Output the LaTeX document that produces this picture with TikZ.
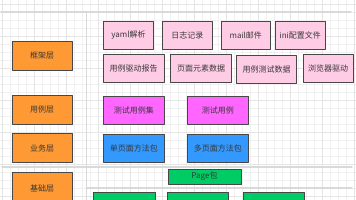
\documentclass[tikz,border=0pt]{standalone}
\usepackage{fontspec}
\setmainfont{Noto Sans CJK SC}
\definecolor{layerorange}{HTML}{FF9933}
\definecolor{toolpink}{HTML}{FFCCE6}
\definecolor{casemagenta}{HTML}{FF66FF}
\definecolor{bizblue}{HTML}{3399FF}
\definecolor{basegreen}{HTML}{00CC66}

\begin{document}
\begin{tikzpicture}[x=1pt,y=-1pt,line join=round,line cap=round,
  box/.style={draw=black!72,line width=0.8pt,inner sep=0pt,text=black!78,
    font=\fontsize{8}{9}\selectfont},
  layer/.style={box,fill=layerorange,minimum width=60pt,minimum height=29pt},
  tool/.style={box,fill=toolpink,minimum height=28pt},
  sepline/.style={black!15,line width=1.4pt}]
  \useasboundingbox (0,0) rectangle (356,200);
  \clip (0,0) rectangle (356,200);
  % grid
  \foreach \i in {0,...,44} \draw[black!6,line width=0.5pt] (2+8*\i,0)--(2+8*\i,200);
  \foreach \j in {0,...,25} \draw[black!6,line width=0.5pt] (0,4+8*\j)--(356,4+8*\j);
  \foreach \i in {0,...,11} \draw[black!10,line width=0.5pt] (2+32*\i,0)--(2+32*\i,200);
  \foreach \j in {0,...,6} \draw[black!10,line width=0.5pt] (0,4+32*\j)--(356,4+32*\j);
  % separators
  \draw[sepline] (1,12)--(351,12);
  \draw[sepline] (86.5,12)--(86.5,200);
  \draw[sepline] (2,167)--(352,167);
  \draw[sepline] (87,188)--(352,188);
  % layers
  \node[layer] (frame) at (42,55.5) {框架层};
  \node[layer] (cases) at (42,109.7) {用例层};
  \node[layer] (biz) at (42,148) {业务层};
  \node[layer,minimum height=31pt] (base) at (42,188) {基础层};
  % framework tools
  \node[tool,minimum width=50.4pt] (yaml) at (128.5,35) {yaml解析};
  \node[tool,minimum width=50pt] (log) at (187.3,35) {日志记录};
  \node[tool,minimum width=49.7pt] (mail) at (245.8,35) {mail邮件};
  \node[tool,minimum width=50pt] (ini) at (300.3,35) {ini配置文件};
  \node[tool,minimum width=60.7pt] (report) at (133.7,68.5) {用例驱动报告};
  \node[tool,minimum width=60.6pt] (elem) at (201,68.5) {页面元素数据};
  \node[tool,minimum width=60.4pt] (data) at (266.5,69.2) {用例测试数据};
  \node[tool,minimum width=49.7pt] (driver) at (328.2,68.5) {浏览器驱动};
  % cases
  \node[box,fill=casemagenta,minimum width=61pt,minimum height=28.3pt] (suite) at (133.8,110.2) {测试用例集};
  \node[box,fill=casemagenta,minimum width=61pt,minimum height=28.3pt] (case) at (217.8,110.2) {测试用例};
  % business
  \node[box,fill=bizblue,minimum width=61pt,minimum height=28.3pt] (single) at (133.8,148.2) {单页面方法包};
  \node[box,fill=bizblue,minimum width=61pt,minimum height=28.3pt] (multi) at (217.8,148.2) {多页面方法包};
  % base
  \node[box,fill=basegreen,minimum width=73pt,minimum height=15pt] (page) at (204.5,176.5) {Page包};
  \node[box,fill=basegreen,minimum width=61.7pt,minimum height=28pt] (baseA) at (124.2,206.7) {};
  \node[box,fill=basegreen,minimum width=61pt,minimum height=28pt] (baseB) at (197.8,206.7) {};
  \node[box,fill=basegreen,minimum width=60.7pt,minimum height=28pt] (baseC) at (273.7,206.7) {};
\end{tikzpicture}
\end{document}
